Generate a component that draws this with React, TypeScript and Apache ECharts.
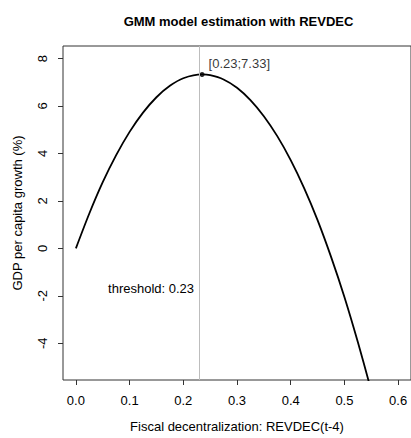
import React, { useEffect, useRef } from "react";
import * as echarts from "echarts";

// Values
const xValues = [0, 0.025, 0.05, 0.075, 0.1, 0.125, 0.15, 0.175, 0.2, 0.235, 0.25, 0.275, 0.3, 0.325, 0.35, 0.375, 0.4, 0.425, 0.45, 0.475, 0.5, 0.525, 0.55];
const yValues = [0, 1.47, 2.79, 3.93, 4.91, 5.72, 6.37, 6.85, 7.17, 7.33, 7.3, 7.12, 6.77, 6.25, 5.57, 4.73, 3.72, 2.54, 1.19, -0.35, -2.05, -3.95, -6.0];
const xTicks = [0, 0.1, 0.2, 0.3, 0.4, 0.5, 0.6];
const yTicks = [-4, -2, 0, 2, 4, 6, 8];
const threshold = 0.235;
const peakValue = 7.33;
const peakLabel = "[0.23;7.33]";
const thresholdLabel = "threshold: 0.23";
const thresholdLabelPos = [0.14, -1.7];
const title = "GMM model estimation with REVDEC";
const xName = "Fiscal decentralization: REVDEC(t-4)";
const yName = "GDP per capita growth (%)";

const FONT = "'Liberation Sans', Arial, Helvetica, sans-serif";

export default function App() {
  const ref = useRef<HTMLDivElement>(null);
  useEffect(() => {
    if (!ref.current) return;
    const chart = echarts.init(ref.current, undefined, { renderer: "svg" });
    const curve = xValues.map((x, i) => [x, yValues[i]]);
    chart.setOption({
      animation: false,
      backgroundColor: "#fff",
      textStyle: { fontFamily: FONT },
      graphic: [
        {
          type: "text",
          x: 238.5,
          y: 21,
          style: {
            text: title,
            font: `bold 13px ${FONT}`,
            fill: "#000",
            textAlign: "center",
            textVerticalAlign: "middle",
          },
        },
      ],
      grid: {
        left: 63,
        right: -3,
        top: 46,
        bottom: 55.3,
        show: true,
        borderColor: "#333",
        borderWidth: 1,
        backgroundColor: "transparent",
      },
      xAxis: {
        type: "value",
        min: -0.024,
        max: 0.624,
        name: xName,
        nameLocation: "middle",
        nameGap: 40,
        nameTextStyle: { fontSize: 13, color: "#000", fontFamily: FONT },
        axisLine: { show: false, onZero: false },
        splitLine: { show: false },
        axisTick: {
          show: true,
          inside: false,
          length: 5,
          customValues: xTicks,
          lineStyle: { color: "#333" },
        },
        axisLabel: {
          customValues: xTicks,
          formatter: (v: number) => v.toFixed(1),
          fontSize: 13,
          color: "#000",
          margin: 14,
          fontFamily: FONT,
        },
      },
      yAxis: {
        type: "value",
        min: -5.55,
        max: 8.53,
        name: yName,
        nameLocation: "middle",
        nameGap: 39,
        nameTextStyle: { fontSize: 13, color: "#000", fontFamily: FONT },
        axisLine: { show: false, onZero: false },
        splitLine: { show: false },
        axisTick: {
          show: true,
          inside: false,
          length: 5,
          customValues: yTicks,
          lineStyle: { color: "#333" },
        },
        axisLabel: {
          customValues: yTicks,
          rotate: 90,
          fontSize: 13,
          color: "#000",
          margin: 14,
          fontFamily: FONT,
        },
      },
      series: [
        {
          type: "line",
          data: curve,
          showSymbol: false,
          symbol: "none",
          smooth: 0.3,
          clip: true,
          lineStyle: { color: "#000", width: 1.8 },
          markLine: {
            silent: true,
            symbol: "none",
            label: { show: false },
            lineStyle: { color: "#bdbdbd", width: 1, type: "solid" },
            data: [{ xAxis: threshold }],
          },
          markPoint: {
            silent: true,
            data: [
              {
                coord: thresholdLabelPos,
                symbol: "circle",
                symbolSize: 0,
                label: {
                  show: true,
                  position: "inside",
                  formatter: thresholdLabel,
                  fontSize: 13,
                  color: "#000",
                  fontFamily: FONT,
                },
              },
            ],
          },
        },
        {
          type: "scatter",
          data: [[threshold, peakValue]],
          symbol: "circle",
          symbolSize: 5,
          itemStyle: { color: "#000" },
          label: {
            show: true,
            position: "right",
            distance: 4,
            offset: [0, -11],
            formatter: peakLabel,
            fontSize: 13,
            color: "#000",
            fontFamily: FONT,
          },
        },
      ],
    });
    return () => chart.dispose();
  }, []);
  return (
    <div
      ref={ref}
      style={{ position: "absolute", left: 0, top: 0, width: 411, height: 438 }}
    />
  );
}
